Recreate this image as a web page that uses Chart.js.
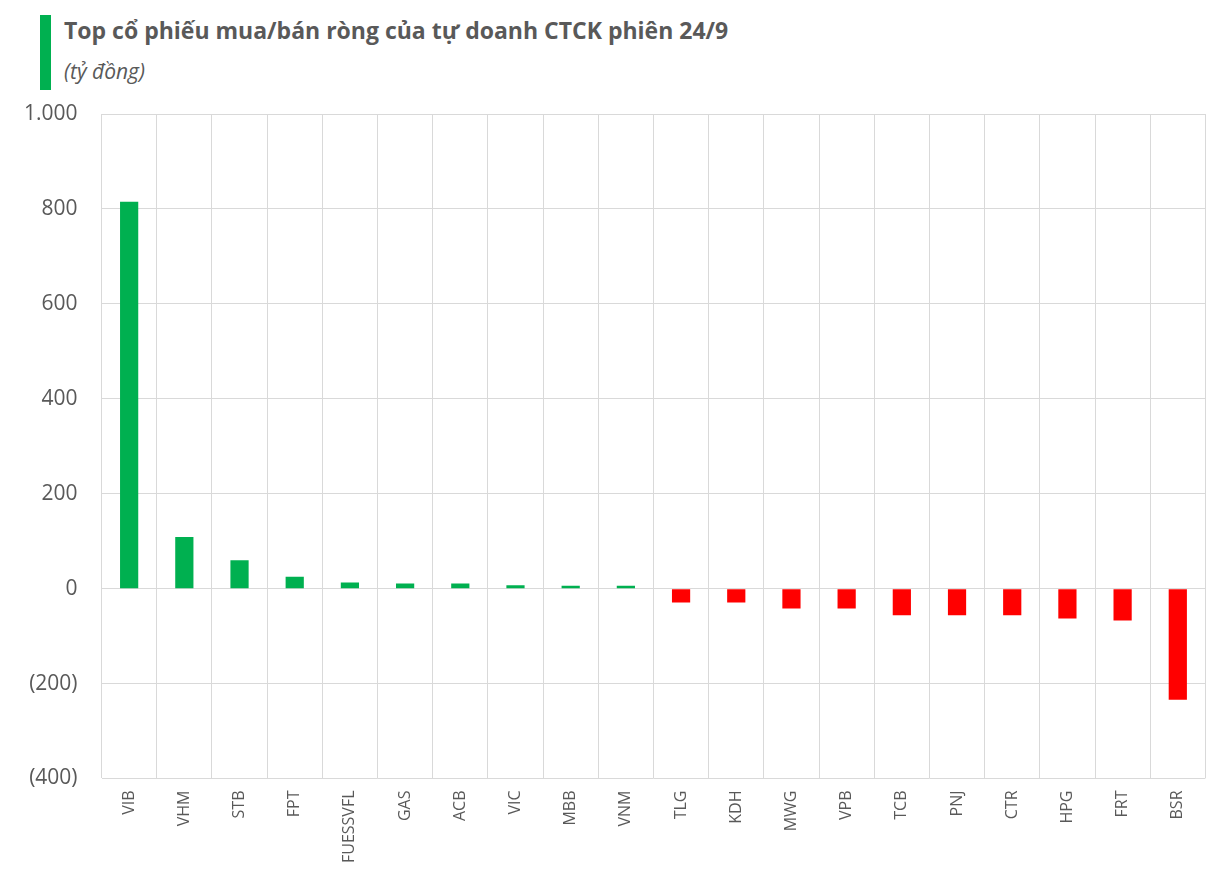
<!DOCTYPE html>
<html><head><meta charset="utf-8">
<script src="https://cdn.jsdelivr.net/npm/chart.js@4"></script>
<style>
body{margin:0;background:#fff;font-family:"Open Sans",Arial,sans-serif;}
#wrap{position:relative;width:1209px;height:887px;}
#bar{position:absolute;left:40px;top:15px;width:11px;height:75px;background:#00b050;}
#t1{position:absolute;left:64px;top:14px;font-size:23px;font-weight:bold;color:#595959;}
#t2{position:absolute;left:64px;top:57px;font-size:21px;font-style:italic;color:#595959;}
canvas{position:absolute;left:0;top:0;}
</style></head><body>
<div id="wrap">
<div id="bar"></div>
<div id="t1">Top cổ phiếu mua/bán ròng của tự doanh CTCK phiên 24/9</div>
<div id="t2">(tỷ đồng)</div>
<canvas id="c" width="1209" height="887"></canvas>
</div>
<script>
const categories=["VIB","VHM","STB","FPT","FUESSVFL","GAS","ACB","VIC","MBB","VNM","TLG","KDH","MWG","VPB","TCB","PNJ","CTR","HPG","FRT","BSR"];
const values=[815,109,60,25,13,11,11,7,6,6,-29,-29,-42,-42,-56,-56,-56,-63,-67,-234];
const colors=values.map(v=>v>=0?"#00b050":"#ff0000");
function fmt(v){const s=Math.abs(v).toLocaleString("de-DE");return v<0?"("+s+")":s;}
new Chart(document.getElementById("c"),{
type:"bar",
data:{labels:categories,datasets:[{data:values,backgroundColor:colors,barPercentage:0.33,categoryPercentage:1}]},
options:{responsive:false,animation:false,
layout:{padding:{top:114,right:0,left:0,bottom:12}},
plugins:{legend:{display:false},tooltip:{enabled:false}},
scales:{
y:{min:-400,max:1000,ticks:{stepSize:200,callback:v=>fmt(v),color:"#595959",font:{size:21,family:"Open Sans"},padding:24},
grid:{color:"#d9d9d9",drawTicks:false},border:{display:false}},
x:{grid:{offset:true,color:"#d9d9d9",drawTicks:false},border:{display:false},
ticks:{minRotation:90,maxRotation:90,color:"#595959",font:{size:16,family:"Open Sans"},padding:12}}
}}});
</script>
</body></html>
